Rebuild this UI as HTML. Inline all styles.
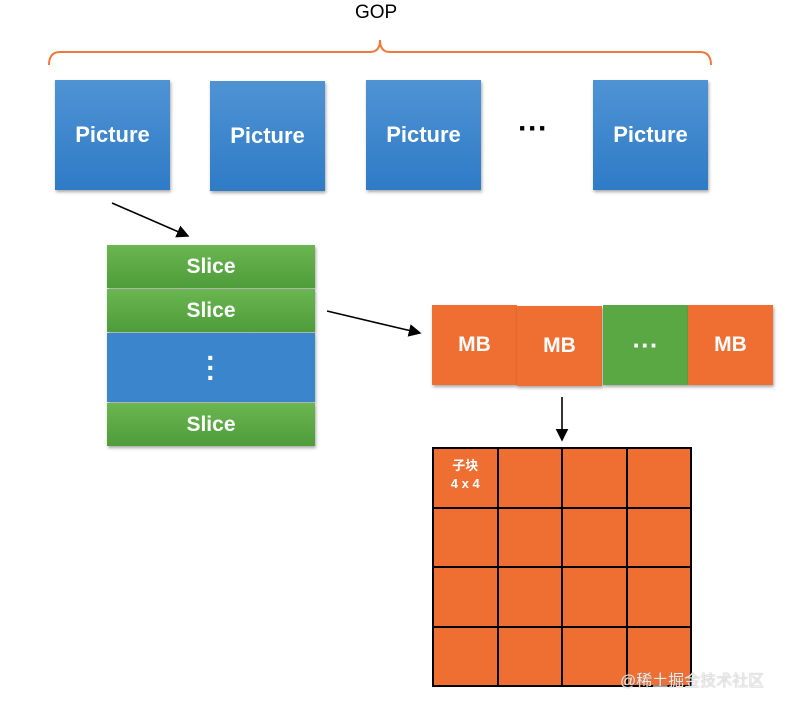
<!DOCTYPE html>
<html><head><meta charset="utf-8"><style>
body{margin:0;width:787px;height:706px;background:#fff;position:relative;overflow:hidden;font-family:"Liberation Sans","Noto Sans CJK SC",sans-serif}
.b{position:absolute;color:#fff;font-weight:bold;display:flex;align-items:center;justify-content:center;box-shadow:1px 2px 3px rgba(0,0,0,.35)}
.p{background:linear-gradient(#4f93d4,#2f7bc6);font-size:22px;width:115px;height:110px;top:80px}
.s{background:linear-gradient(#6ab651,#4e9c3a);font-size:21px;left:107px;width:208px;height:43px}
.m{background:#ef6f33;font-size:21px;width:85px;height:80px;top:305px}
</style></head><body>
<div style="position:absolute;left:355px;top:2px;font-size:19px">GOP</div>
<svg width="787" height="706" style="position:absolute;left:0;top:0">
<path d="M49,65 Q49,52 60,52 L370,52 Q380,52 380,40 Q380,52 390,52 L700,52 Q711,52 711,65" fill="none" stroke="#ef7a3a" stroke-width="2"/>
<defs><marker id="a" markerWidth="8" markerHeight="8" refX="7" refY="4" orient="auto"><path d="M0,0L8,4L0,8z" fill="#000"/></marker></defs>
<line x1="112" y1="203" x2="188" y2="236" stroke="#000" stroke-width="1.6" marker-end="url(#a)"/>
<line x1="327" y1="311" x2="420" y2="333" stroke="#000" stroke-width="1.6" marker-end="url(#a)"/>
<line x1="562" y1="397" x2="562" y2="440" stroke="#000" stroke-width="1.6" marker-end="url(#a)"/>
</svg>
<div class="b p" style="left:55px">Picture</div>
<div class="b p" style="left:210px;top:81px">Picture</div>
<div class="b p" style="left:366px">Picture</div>
<div style="position:absolute;left:518px;top:112px;font-size:30px;font-weight:bold">···</div>
<div class="b p" style="left:593px">Picture</div>
<div class="b s" style="top:245px">Slice</div>
<div class="b s" style="top:289px">Slice</div>
<div class="b" style="left:107px;top:333px;width:208px;height:69px;background:#3a85cc;font-size:28px;flex-direction:column;line-height:10px">·<br>·<br>·</div>
<div class="b s" style="top:403px">Slice</div>
<div class="b m" style="left:432px">MB</div>
<div class="b m" style="left:517px;top:306px">MB</div>
<div class="b m" style="left:603px;background:#5aa843;font-size:26px">···</div>
<div class="b m" style="left:688px">MB</div>
<div style="position:absolute;left:432px;top:447px;width:260px;height:240px;background:#ef6f33;display:grid;grid-template-columns:repeat(4,1fr);grid-template-rows:repeat(4,1fr);border:1px solid #000;box-sizing:border-box">
<div style="border:1px solid #000;color:#fff;font-size:13px;font-weight:bold;text-align:center;padding-top:8px;line-height:18px">子块<br>4 x 4</div>
<div style="border:1px solid #000"></div><div style="border:1px solid #000"></div><div style="border:1px solid #000"></div>
<div style="border:1px solid #000"></div><div style="border:1px solid #000"></div><div style="border:1px solid #000"></div><div style="border:1px solid #000"></div>
<div style="border:1px solid #000"></div><div style="border:1px solid #000"></div><div style="border:1px solid #000"></div><div style="border:1px solid #000"></div>
<div style="border:1px solid #000"></div><div style="border:1px solid #000"></div><div style="border:1px solid #000"></div><div style="border:1px solid #000"></div>
</div>
<div style="position:absolute;left:620px;top:667px;font-size:16px;color:rgba(255,255,255,.8);text-shadow:0 0 1px #888">@稀土掘金技术社区</div>
</body></html>
